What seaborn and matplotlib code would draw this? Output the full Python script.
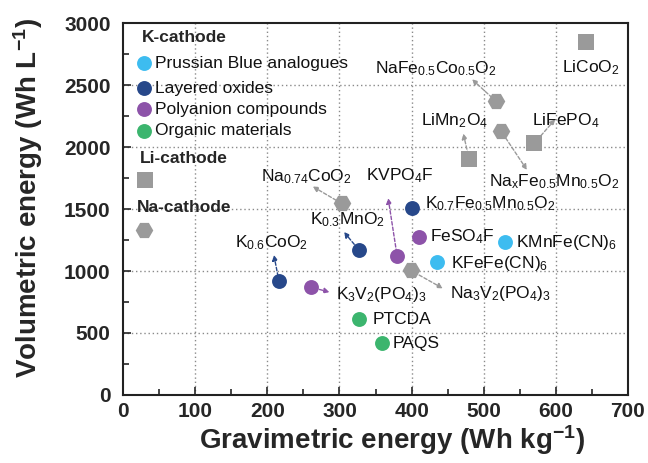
import matplotlib
matplotlib.use('Agg')
import matplotlib.pyplot as plt
import pandas as pd
import seaborn as sns

# DATA
names = ['KMnFe(CN)$_6$', 'KFeFe(CN)$_6$', 'K$_{0.7}$Fe$_{0.5}$Mn$_{0.5}$O$_2$',
         'K$_{0.3}$MnO$_2$', 'K$_{0.6}$CoO$_2$', 'FeSO$_4$F', 'KVPO$_4$F',
         'K$_3$V$_2$(PO$_4$)$_3$', 'PTCDA', 'PAQS',
         'LiCoO$_2$', 'LiFePO$_4$', 'LiMn$_2$O$_4$',
         'NaFe$_{0.5}$Co$_{0.5}$O$_2$', 'Na$_\\mathrm{x}$Fe$_{0.5}$Mn$_{0.5}$O$_2$',
         'Na$_{0.74}$CoO$_2$', 'Na$_3$V$_2$(PO$_4$)$_3$']
grav = [530, 435, 400, 327, 216, 410, 380, 260, 327, 359,
        642, 570, 480, 517, 524, 303, 399]
vol = [1235, 1070, 1505, 1170, 920, 1275, 1120, 870, 610, 420,
       2845, 2030, 1900, 2370, 2130, 1545, 1005]
group = ['pba', 'pba', 'layered', 'layered', 'layered', 'poly', 'poly', 'poly',
         'organic', 'organic', 'li', 'li', 'li', 'na', 'na', 'na', 'na']

k_legend = ['Prussian Blue analogues', 'Layered oxides', 'Polyanion compounds', 'Organic materials']
k_groups = ['pba', 'layered', 'poly', 'organic']

# STYLE
colors = {'pba': '#3dbcf0', 'layered': '#27488a', 'poly': '#8d53a9',
          'organic': '#3cb56e', 'li': '#9a9a9a', 'na': '#9a9a9a'}
markers = {'pba': 'o', 'layered': 'o', 'poly': 'o', 'organic': 'o', 'li': 's', 'na': 'H'}
msizes = {'pba': 115, 'layered': 115, 'poly': 115, 'organic': 115, 'li': 135, 'na': 160}

# label layout: text offset (px), alignment, arrow head offset (px) or None
label_off = [(11, -1), (14, -1), (13, 5), (-11, 30), (-7, 38), (11, 0), (3, 80),
             (25, -7), (14, 0), (11, -1),
             (5, -25), (32, 23), (-15, 39),
             (-60, 33), (53, -51), (-35, 27), (39, -23)]
label_ha = ['left', 'left', 'left', 'center', 'center', 'left', 'center',
            'left', 'left', 'left',
            'center', 'center', 'center',
            'center', 'center', 'center', 'left']
arrow_off = [None, None, None, (-15, 18), (-5, 26), None, (-9, 58),
             (19, -5), None, None,
             None, (21, 24), (-6, 26),
             (-24, 22), (26, -39), (-29, 17), (32, -18)]

df = pd.DataFrame({'name': names, 'grav': grav, 'vol': vol, 'group': group})

sns.set_style('ticks')
plt.rcParams['font.family'] = ['Liberation Sans', 'DejaVu Sans']
plt.rcParams['mathtext.fontset'] = 'custom'
plt.rcParams['mathtext.rm'] = 'Liberation Sans'
plt.rcParams['mathtext.it'] = 'Liberation Sans:italic'
plt.rcParams['mathtext.bf'] = 'Liberation Sans:bold'

fig = plt.figure(figsize=(6.48, 4.63), dpi=100)
ax = fig.add_axes([0.190, 0.147, 0.779, 0.803])

# dotted grid drawn explicitly behind everything
for gx in range(100, 700, 100):
    ax.axvline(gx, color='#8a8a8a', linestyle=(0, (1, 2)), linewidth=1.0, zorder=0.5)
for gy in range(500, 3000, 500):
    ax.axhline(gy, color='#8a8a8a', linestyle=(0, (1, 2)), linewidth=1.0, zorder=0.5)

# arrows first so markers sit on top
for i, row in df.iterrows():
    if arrow_off[i] is None:
        continue
    c = colors[row['group']]
    ax.annotate('', xy=(row['grav'], row['vol']), xytext=arrow_off[i],
                textcoords='offset pixels',
                arrowprops=dict(arrowstyle='<|-', color=c, lw=1.0,
                                linestyle=(0, (2.5, 1.5)), shrinkA=0, shrinkB=0,
                                mutation_scale=8), zorder=2)

for g in ['li', 'na', 'pba', 'layered', 'poly', 'organic']:
    sub = df[df['group'] == g]
    sns.scatterplot(data=sub, x='grav', y='vol', ax=ax, color=colors[g],
                    marker=markers[g], s=msizes[g], linewidth=0, zorder=3)

for i, row in df.iterrows():
    ax.annotate(row['name'], xy=(row['grav'], row['vol']), xytext=label_off[i],
                textcoords='offset pixels', ha=label_ha[i], va='center',
                fontsize=12.5, color='#111111', zorder=4)

# custom legend block
ax.text(0.038, 0.962, 'K-cathode', transform=ax.transAxes, fontsize=12.5,
        fontweight='bold', va='center', ha='left')
for j, (lab, g) in enumerate(zip(k_legend, k_groups)):
    yy = [0.892, 0.825, 0.769, 0.710][j]
    ax.scatter([0.042], [yy], transform=ax.transAxes, color=colors[g], s=115,
               marker='o', linewidth=0, zorder=5)
    ax.text(0.063, yy, lab, transform=ax.transAxes, fontsize=12.5,
            va='center', ha='left', color='#111111')
ax.text(0.034, 0.637, 'Li-cathode', transform=ax.transAxes, fontsize=12.5,
        fontweight='bold', va='center', ha='left')
ax.scatter([0.044], [0.578], transform=ax.transAxes, color=colors['li'],
           marker='s', s=135, linewidth=0, zorder=5)
ax.text(0.028, 0.505, 'Na-cathode', transform=ax.transAxes, fontsize=12.5,
        fontweight='bold', va='center', ha='left')
ax.scatter([0.042], [0.444], transform=ax.transAxes, color=colors['na'],
           marker='H', s=160, linewidth=0, zorder=5)

ax.set_xlim(0, 700)
ax.set_ylim(0, 3000)
ax.set_xticks(range(0, 701, 100))
ax.set_yticks(range(0, 3001, 500))
ax.set_xticks(range(50, 700, 100), minor=True)
ax.set_yticks(range(250, 3000, 500), minor=True)
ax.tick_params(which='both', direction='in', top=False, right=False, width=1.2)
ax.tick_params(which='major', length=6, labelsize=15)
ax.tick_params(axis='y', which='major', pad=9)
ax.tick_params(axis='x', which='major', pad=5)
ax.tick_params(which='minor', length=4)
for lab in ax.get_xticklabels() + ax.get_yticklabels():
    lab.set_fontweight('bold')
for sp in ax.spines.values():
    sp.set_linewidth(1.5)
    sp.set_color('#222222')

ax.set_xlabel('Gravimetric energy (Wh kg$^{\\mathbf{-1}}$)', fontsize=20,
              fontweight='bold')
ax.set_ylabel('Volumetric energy (Wh L$^{\\mathbf{-1}}$)', fontsize=20,
              fontweight='bold')
ax.xaxis.set_label_coords(0.533, -0.075)
ax.xaxis.label.set_va('top')
ax.yaxis.set_label_coords(-0.154, 0.53)

fig.savefig('out.png', dpi=100)
